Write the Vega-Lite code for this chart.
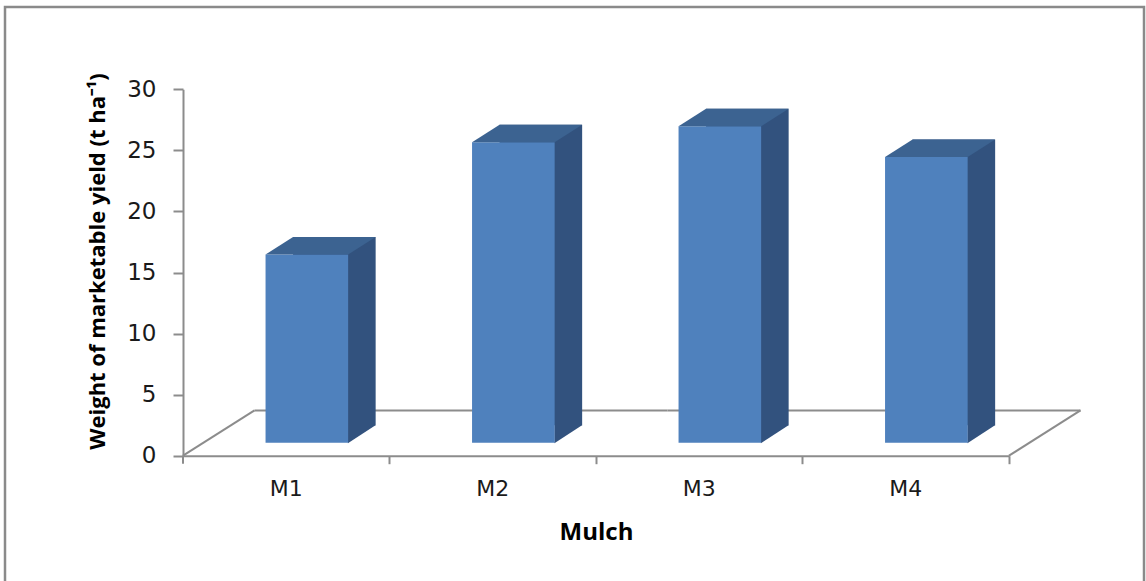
{
  "$schema": "https://vega.github.io/schema/vega-lite/v6.json",
  "width": 1139,
  "height": 580,
  "autosize": "none",
  "padding": {"left": 5, "top": 7, "right": 2, "bottom": 0},
  "background": "white",
  "config": {
    "view": {"stroke": "#8a8a8a", "strokeWidth": 2.5},
    "axis": {"grid": false}
  },
  "data": {
    "values": [
      {"mulch": "M1", "yield": 15.4},
      {"mulch": "M2", "yield": 24.6},
      {"mulch": "M3", "yield": 25.9},
      {"mulch": "M4", "yield": 23.4}
    ]
  },
  "encoding": {
    "x": {
      "field": "mulch",
      "type": "nominal",
      "sort": null,
      "scale": {"range": [178, 1004], "paddingInner": 0, "paddingOuter": 0},
      "axis": {
        "title": "Mulch",
        "offset": -131.3,
        "labelAngle": 0,
        "bandPosition": 1,
        "domainColor": "#8c8c8c",
        "domainWidth": 2,
        "tickColor": "#8c8c8c",
        "tickWidth": 2,
        "tickSize": 8,
        "labelPadding": 15,
        "labelFont": "DejaVu Sans",
        "labelFontSize": 22,
        "labelColor": "#1a1a1a",
        "titleFont": "Open Sans",
        "titleFontSize": 24,
        "titleFontWeight": "bold",
        "titleColor": "#000000",
        "titleBaseline": "alphabetic",
        "titleX": 591,
        "titleY": 84
      }
    }
  },
  "layer": [
    {
      "mark": {"type": "rule", "color": "#8c8c8c", "strokeWidth": 2, "xOffset": 71.5, "x2Offset": 71.5, "yOffset": -45.3},
      "encoding": {
        "x": {"field": "mulch", "type": "nominal", "bandPosition": 0},
        "x2": {"field": "mulch", "bandPosition": 1},
        "y": {"datum": 0, "type": "quantitative"}
      }
    },
    {
      "transform": [{"filter": "datum.mulch === 'M1'"}],
      "mark": {"type": "rule", "color": "#8c8c8c", "strokeWidth": 2, "x2Offset": 71.5, "y2Offset": -45.3},
      "encoding": {
        "x": {"field": "mulch", "type": "nominal", "bandPosition": 0},
        "x2": {"field": "mulch", "bandPosition": 0},
        "y": {"datum": 0, "type": "quantitative"},
        "y2": {"datum": 0}
      }
    },
    {
      "transform": [{"filter": "datum.mulch === 'M4'"}],
      "mark": {"type": "rule", "color": "#8c8c8c", "strokeWidth": 2, "x2Offset": 71.5, "y2Offset": -45.3},
      "encoding": {
        "x": {"field": "mulch", "type": "nominal", "bandPosition": 1},
        "x2": {"field": "mulch", "bandPosition": 1},
        "y": {"datum": 0, "type": "quantitative"},
        "y2": {"datum": 0}
      }
    },
    {
      "transform": [{"filter": "datum.mulch === 'M1'"}],
      "mark": {"type": "rule", "color": "#8c8c8c", "strokeWidth": 2, "y2Offset": 8},
      "encoding": {
        "x": {"field": "mulch", "type": "nominal", "bandPosition": 0},
        "y": {"datum": 0, "type": "quantitative"},
        "y2": {"datum": 0}
      }
    },
    {
      "mark": {"type": "bar", "color": "#32527e", "width": {"band": 0.4}, "xOffset": 48.1, "x2Offset": 48.1, "yOffset": -30.5, "y2Offset": -30.5},
      "encoding": {
        "y": {
          "field": "yield",
          "type": "quantitative",
          "scale": {"domain": [0, 30], "range": [448.7, 82.3], "nice": false},
          "axis": {
            "title": "Weight of marketable yield (t ha⁻¹)",
            "offset": -178,
            "values": [0, 5, 10, 15, 20, 25, 30],
            "domainColor": "#8c8c8c",
            "domainWidth": 2,
            "tickColor": "#8c8c8c",
            "tickWidth": 2,
            "tickSize": 10,
            "labelPadding": 17,
            "labelFont": "DejaVu Sans",
            "labelFontSize": 23,
            "labelColor": "#1a1a1a",
            "titleFont": "Open Sans",
            "titleFontSize": 22,
            "titleFontWeight": "bold",
            "titleColor": "#000000",
            "titleAngle": -90,
            "titleAlign": "center",
            "titleBaseline": "alphabetic",
            "titleX": -79,
            "titleY": 254
          }
        }
      }
    },
    {
      "mark": {"type": "point", "shape": "M -1 -0.64 L 1 -0.64 L -1 0.66 Z", "size": 784, "filled": true, "opacity": 1, "strokeWidth": 0, "color": "#32527e", "xOffset": 75.65, "yOffset": -21.75},
      "encoding": {
        "y": {"datum": 0, "type": "quantitative"}
      }
    },
    {
      "mark": {"type": "bar", "color": "#4f81bd", "width": {"band": 0.4}, "xOffset": 20.6, "x2Offset": 20.6, "yOffset": -13, "y2Offset": -13},
      "encoding": {
        "y": {"field": "yield", "type": "quantitative"}
      }
    },
    {
      "mark": {"type": "point", "shape": "M -3.932 0.625 L 1.968 0.625 L 3.932 -0.625 L -1.968 -0.625 Z", "size": 784, "filled": true, "opacity": 1, "strokeWidth": 0, "color": "#3c6391", "xOffset": 34.35, "yOffset": -21.75},
      "encoding": {
        "y": {"field": "yield", "type": "quantitative"}
      }
    }
  ]
}
